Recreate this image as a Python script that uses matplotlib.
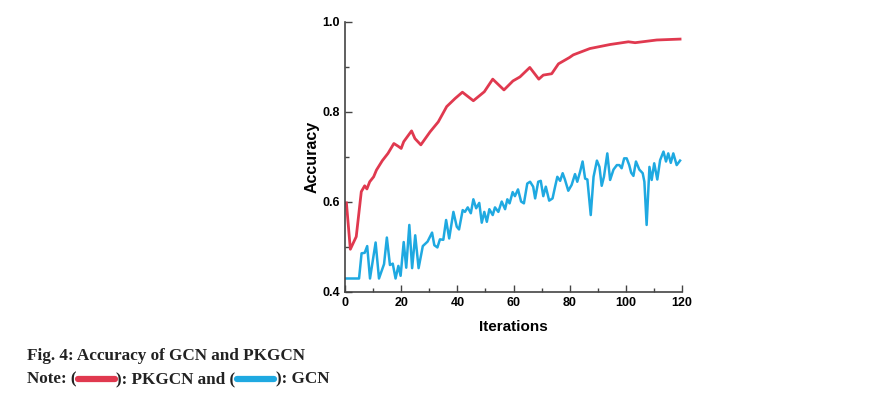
import matplotlib.pyplot as plt
from matplotlib.ticker import MultipleLocator

# PKGCN accuracy
pk_iter = [0.5, 1.9, 4.0, 5.8, 7.0, 7.8, 8.8, 10.2, 11.2, 13.3, 15.3, 17.4, 18.9,
           20.0, 20.9, 23.7, 24.9, 27.0, 30.3, 33.2, 36.2, 39.2, 41.8, 45.7, 49.6,
           52.6, 56.6, 59.8, 62.3, 65.8, 69.0, 70.6, 73.6, 76.0, 79.9, 81.3, 87.2,
           94.4, 100.9, 103.3, 111.0, 119.3]
pk_acc = [0.598, 0.495, 0.523, 0.623, 0.636, 0.629, 0.645, 0.656, 0.671, 0.692,
          0.708, 0.730, 0.724, 0.719, 0.734, 0.758, 0.741, 0.727, 0.756, 0.778,
          0.812, 0.830, 0.844, 0.825, 0.845, 0.873, 0.849, 0.869, 0.878, 0.899,
          0.873, 0.882, 0.885, 0.907, 0.921, 0.927, 0.941, 0.950, 0.956, 0.954,
          0.960, 0.962]

# GCN accuracy
gcn_iter = [0.0, 5.0, 5.9, 7.0, 7.9, 8.9, 10.9, 12.1, 13.9, 14.9, 16.0, 17.0, 18.0,
            19.0, 19.8, 20.9, 21.8, 22.9, 23.9, 25.0, 26.2, 27.7, 29.4, 31.0, 31.8,
            32.9, 33.8, 35.0, 36.0, 37.1, 38.6, 39.8, 40.6, 41.9, 42.7, 43.7, 44.8,
            45.7, 46.7, 47.8, 48.7, 49.6, 50.5, 51.4, 52.6, 53.4, 54.6, 55.8, 57.0,
            57.8, 58.6, 59.7, 60.5, 61.6, 62.7, 63.7, 64.9, 65.9, 67.0, 67.7, 68.8,
            69.7, 70.6, 71.5, 72.7, 73.9, 74.8, 75.6, 76.6, 77.5, 78.3, 79.5, 80.7,
            81.9, 82.7, 83.7, 84.6, 85.5, 86.3, 87.5, 88.5, 89.7, 90.6, 91.4, 92.2,
            93.4, 94.4, 95.6, 96.8, 97.7, 98.5, 99.4, 100.3, 101.2, 101.9, 102.7,
            103.6, 104.8, 106.0, 106.6, 107.4, 108.4, 109.2, 110.1, 111.2, 112.2,
            113.4, 114.3, 115.1, 116.0, 116.9, 118.1, 119.3]
gcn_acc = [0.430, 0.430, 0.486, 0.487, 0.502, 0.430, 0.510, 0.430, 0.462, 0.521,
           0.460, 0.463, 0.430, 0.458, 0.436, 0.511, 0.454, 0.549, 0.453, 0.526,
           0.453, 0.502, 0.512, 0.532, 0.504, 0.499, 0.517, 0.516, 0.560, 0.519,
           0.578, 0.545, 0.539, 0.582, 0.578, 0.588, 0.575, 0.606, 0.586, 0.598,
           0.554, 0.578, 0.556, 0.584, 0.571, 0.588, 0.578, 0.601, 0.584, 0.606,
           0.597, 0.622, 0.613, 0.628, 0.601, 0.597, 0.641, 0.645, 0.634, 0.608,
           0.645, 0.647, 0.613, 0.634, 0.603, 0.608, 0.634, 0.656, 0.647, 0.664,
           0.650, 0.625, 0.638, 0.662, 0.645, 0.667, 0.690, 0.652, 0.650, 0.571,
           0.656, 0.692, 0.678, 0.636, 0.656, 0.708, 0.649, 0.672, 0.682, 0.682,
           0.675, 0.697, 0.697, 0.682, 0.665, 0.658, 0.690, 0.672, 0.664, 0.645,
           0.549, 0.678, 0.649, 0.686, 0.650, 0.693, 0.712, 0.690, 0.708, 0.687,
           0.708, 0.682, 0.692]

RED = "#e0394f"
BLUE = "#1fa9e1"

plt.rcParams["font.family"] = ["Liberation Sans", "DejaVu Sans"]

fig = plt.figure(figsize=(8.79, 3.97), dpi=100)
ax = fig.add_axes([0.3925, 0.2645, 0.3834, 0.6801])

ax.plot(pk_iter, pk_acc, color=RED, lw=2.0)
ax.plot(gcn_iter, gcn_acc, color=BLUE, lw=1.8)

ax.set_xlim(0, 120)
ax.set_ylim(0.4, 1.0)
ax.xaxis.set_major_locator(MultipleLocator(20))
ax.xaxis.set_minor_locator(MultipleLocator(10))
ax.yaxis.set_major_locator(MultipleLocator(0.2))
ax.yaxis.set_minor_locator(MultipleLocator(0.1))
ax.set_xticklabels([f"{int(v)}" for v in ax.get_xticks()])
ax.tick_params(which="major", direction="in", length=5, width=1, color="#444444",
               labelsize=9)
ax.tick_params(which="minor", direction="in", length=3, width=1, color="#444444")
for lab in ax.get_xticklabels() + ax.get_yticklabels():
    lab.set_fontweight("bold")

for s in ["top", "right"]:
    ax.spines[s].set_visible(False)
for s in ["left", "bottom"]:
    ax.spines[s].set_color("#444444")
    ax.spines[s].set_linewidth(1.2)

ax.set_xlabel("Iterations", fontsize=11, fontweight="bold", labelpad=8)
ax.set_ylabel("Accuracy", fontsize=11.5, fontweight="bold", labelpad=2)

# caption
cap = dict(fontsize=12.3, fontweight="bold", family="Liberation Serif", color="#222222",
           va="center", ha="left")
fig.text(27 / 879, 1 - 356 / 397, "Fig. 4: Accuracy of GCN and PKGCN", **cap)

renderer = fig.canvas.get_renderer()
y2 = 1 - 379 / 397
x = 27 / 879
bar_w = 40 / 879
parts = ["Note: (", RED, "): PKGCN and (", BLUE, "): GCN"]
for p in parts:
    if p in (RED, BLUE):
        fig.add_artist(plt.Line2D([x + 0.002, x + bar_w - 0.002], [y2, y2],
                                  color=p, lw=4.5, solid_capstyle="round",
                                  transform=fig.transFigure))
        x += bar_w
    else:
        t = fig.text(x, y2, p, **cap)
        bb = t.get_window_extent(renderer)
        x += bb.width / fig.bbox.width

fig.savefig("out.png", dpi=100)
